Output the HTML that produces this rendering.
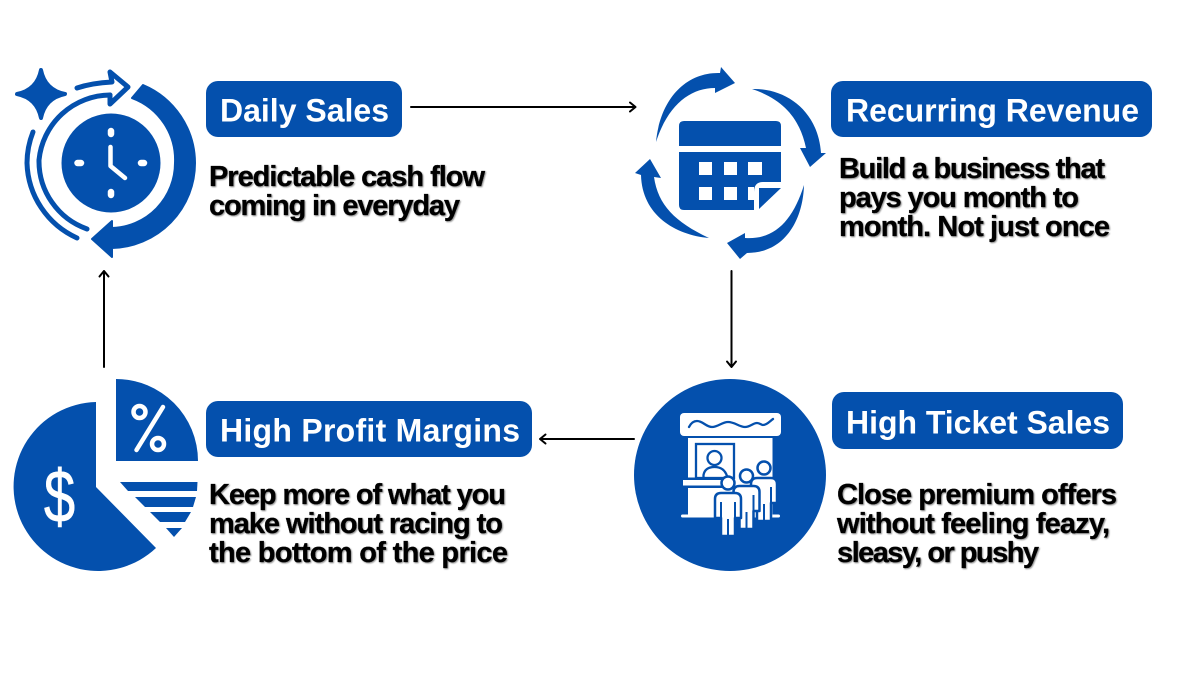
<!DOCTYPE html>
<html><head><meta charset="utf-8"><style>
html,body{margin:0;padding:0;background:#fff;width:1200px;height:675px;overflow:hidden}
svg{display:block}
.b{font-family:"Liberation Sans",sans-serif;font-weight:700;font-size:32px;fill:#fff}
.t{font-family:"Liberation Sans",sans-serif;font-weight:700;font-size:29px;fill:#000;stroke:#000;stroke-width:.3}
</style></head><body>
<svg width="1200" height="675" viewBox="0 0 1200 675" xmlns="http://www.w3.org/2000/svg">
<rect width="1200" height="675" fill="#fff"/>
<g fill="#0450ad">
<rect x="206" y="81" width="196" height="56" rx="12"/>
<rect x="831" y="81" width="321" height="56" rx="12"/>
<rect x="206" y="401" width="326" height="56" rx="12"/>
<rect x="832" y="392" width="291" height="57" rx="12"/>
</g>
<text class="b" x="220" y="121.500" textLength="169" lengthAdjust="spacing">Daily Sales</text>
<text class="b" x="846" y="121.500" textLength="293" lengthAdjust="spacing">Recurring Revenue</text>
<text class="b" x="220" y="441.500" textLength="300" lengthAdjust="spacing">High Profit Margins</text>
<text class="b" x="846" y="433.500" textLength="264" lengthAdjust="spacing">High Ticket Sales</text>
<g style="filter:drop-shadow(1px 1.5px .8px rgba(0,0,0,.45))">
<text class="t" x="209" y="186" textLength="276" lengthAdjust="spacing">Predictable cash flow</text>
<text class="t" x="209" y="215" textLength="251" lengthAdjust="spacing">coming in everyday</text>
<text class="t" x="839" y="178" textLength="266" lengthAdjust="spacing">Build a business that</text>
<text class="t" x="839" y="207" textLength="240" lengthAdjust="spacing">pays you month to</text>
<text class="t" x="839" y="236" textLength="271" lengthAdjust="spacing">month. Not just once</text>
<text class="t" x="209" y="504" textLength="297" lengthAdjust="spacing">Keep more of what you</text>
<text class="t" x="209" y="533" textLength="294" lengthAdjust="spacing">make without racing to</text>
<text class="t" x="209" y="562" textLength="299" lengthAdjust="spacing">the bottom of the price</text>
<text class="t" x="837" y="504" textLength="280" lengthAdjust="spacing">Close premium offers</text>
<text class="t" x="837" y="533" textLength="273" lengthAdjust="spacing">without feeling feazy,</text>
<text class="t" x="837" y="562" textLength="202" lengthAdjust="spacing">sleasy, or pushy</text>
</g>
<!-- connectors -->
<g fill="none" stroke="#000" stroke-width="2" stroke-linecap="round" stroke-linejoin="round">
<path d="M411 107H635M630 102.500l5.500 4.500-5.500 4.500"/>
<path d="M731.500 271V367M727 361.500l4.500 5.500 4.500-5.500"/>
<path d="M634 439H540M545.500 434.500l-5.500 4.500 5.500 4.500"/>
<path d="M104 367V271M99.500 276.500l4.500-5.500 4.500 5.500"/>
</g>
<!-- clock icon -->
<g fill="#0450ad">
<path d="M41 70Q45 90 65 94Q45 98 41 118Q37 98 17 94Q37 90 41 70Z" stroke="#0450ad" stroke-width="4" stroke-linejoin="round"/>
<circle cx="111" cy="163" r="49.500"/>
<path d="M143 85A85 85 0 0 1 195 163A85 85 0 0 1 112 248V257L92 239L112 221V228A65 65 0 0 0 175 163A66 66 0 0 0 132 98Z" stroke="#0450ad" stroke-width="2" stroke-linejoin="round"/>
</g>
<g fill="none" stroke="#0450ad" stroke-linecap="round" stroke-linejoin="round">
<path d="M87 229A72 72 0 0 1 39 160A72 72 0 0 1 110 95" stroke-width="5"/>
<path d="M77 238A85 85 0 0 1 27 163A85 85 0 0 1 33 132" stroke-width="5"/>
<path d="M77 88Q92 83 112 82L110 72L128 87L110 104L110 95" stroke-width="5"/>
</g>
<g fill="none" stroke="#fff" stroke-linecap="round" stroke-width="6.500">
<path d="M111 131V134M111 192V195M77.500 163H81M141 163H144"/>
<path d="M110.500 147V166L125 178" stroke-width="4.500" stroke-linejoin="round"/>
</g>
<!-- calendar icon -->
<g fill="#0450ad">
<path d="M679 146V126Q679 121 684 121H776Q781 121 781 126V146Z"/>
<path d="M679 152H781V182H763Q754 182 754 192V210H684Q679 210 679 205Z"/>
<path d="M759 188H781L759 209Z"/>
<path d="M656 142C660 100 685 72 720 73L721 67L735 83L715 93L715 88C690 88 668 105 656 142Z"/>
<path d="M752 89C785 88 818 110 821 153L826 153L810 167L800 148L806 148C800 120 785 100 752 89Z"/>
<path d="M804 185C803 220 785 253 747 253L740 259L727 243L745 233L745 238C775 240 793 220 804 185Z"/>
<path d="M709 238C675 235 642 215 641 175L635 173L650 159L661 178L654 177C658 205 675 222 709 238Z"/>
</g>
<g fill="#fff">
<rect x="699" y="162" width="13" height="13"/><rect x="724" y="162" width="13" height="13"/><rect x="748" y="162" width="14" height="13"/>
<rect x="699" y="187" width="13" height="13"/><rect x="724" y="187" width="13" height="13"/>
<rect x="748" y="187" width="6" height="13"/>
</g>
<!-- pie icon -->
<g fill="#0450ad">
<path d="M96 487V402A84.500 84.500 0 1 0 156 548Z"/>
<path d="M116 379A82 82 0 0 1 198 461H116Z"/>
<path d="M120 482H197.500L197 491H128Z"/>
<path d="M135 497H196L193 507H145Z"/>
<path d="M150 512H191L185 522H160Z"/>
<path d="M166 528H182L174 537Z"/>
</g>
<text transform="translate(59.500 522) scale(.76 1)" text-anchor="middle" font-family="Liberation Sans,sans-serif" font-size="74" fill="#fff" stroke="#fff" stroke-width=".6">$</text>
<g fill="none" stroke="#fff" stroke-width="4.500" stroke-linecap="round">
<circle cx="139.500" cy="412" r="6"/><circle cx="158" cy="444" r="6"/><path d="M163 407L136.500 450"/>
</g>
<!-- booth icon -->
<circle cx="730" cy="475" r="96" fill="#0450ad"/>
<rect x="680" y="413" width="101" height="23" rx="4" fill="#fff"/>
<path d="M689 427Q692 421 697 421C703 421 706 427 712 427C718 427 722 422 728 422C735 422 739 427 745 427C750 427 753 423 757 423C760 423 761 425 763 425C767 425 770 421 773 419" fill="none" stroke="#0450ad" stroke-width="2.300" stroke-linecap="round"/>
<rect x="688" y="438" width="84.500" height="77" fill="#fff"/>
<rect x="681" y="514.500" width="99" height="3" rx="1.500" fill="#fff"/>
<g fill="none" stroke="#0450ad" stroke-width="2.300">
<rect x="696" y="444" width="38" height="34"/>
<circle cx="714.500" cy="458" r="7"/>
<path d="M703.500 478V475Q705 467 714.500 467Q724 467 727 476" stroke-width="2.300"/>
</g>
<rect x="682" y="477.500" width="43" height="11" fill="#0450ad"/>
<rect x="683" y="480" width="41" height="5.500" fill="#fff"/>
<rect x="688" y="488" width="36" height="4" fill="#fff"/>
<g fill="#fff" stroke="#0450ad" stroke-width="2.500" stroke-linejoin="round">
<g transform="translate(764 468)"><circle r="6.500"/><path d="M-10 35H-13V16Q-13 10-7 10H7Q13 10 13 16V35H7V53H-7V35Z"/><path d="M-7 19V35M7 19V35M0 36V53" fill="none" stroke-width="2"/></g>
<g transform="translate(746.500 476)"><circle r="6.500"/><path d="M-10 35H-13V16Q-13 10-7 10H7Q13 10 13 16V35H7V53H-7V35Z"/><path d="M-7 19V35M7 19V35M0 36V53" fill="none" stroke-width="2"/></g>
<g transform="translate(728 483)"><circle r="6.500"/><path d="M-10 35H-13V16Q-13 10-7 10H7Q13 10 13 16V35H7V53H-7V35Z"/><path d="M-7 19V35M7 19V35M0 36V53" fill="none" stroke-width="2"/></g>
</g>
</svg>
</body></html>
